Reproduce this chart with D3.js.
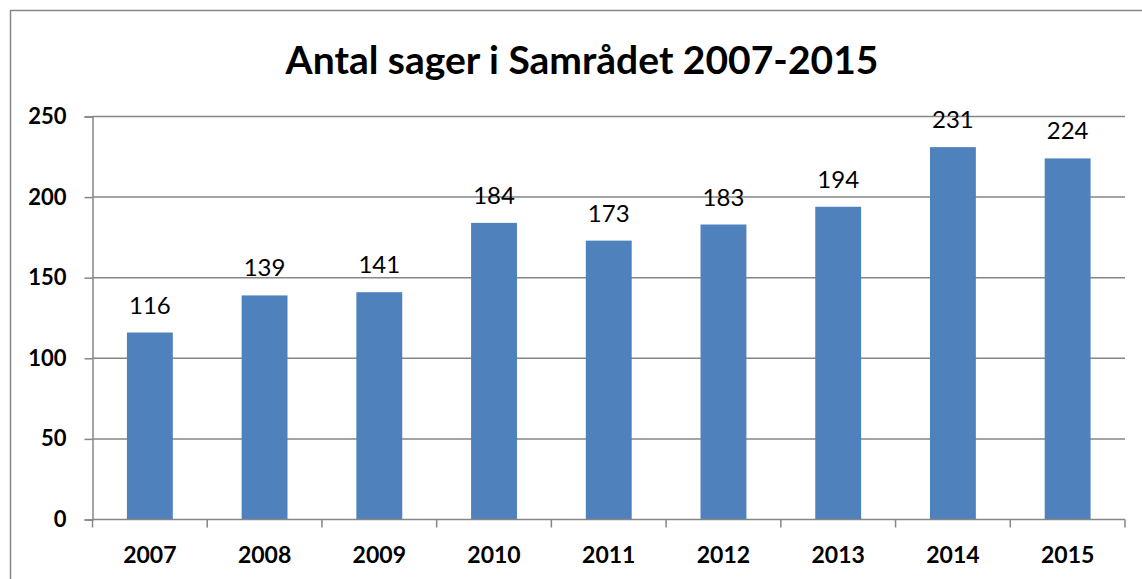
<!DOCTYPE html>
<html>
<head>
<meta charset="utf-8">
<script src="https://cdn.jsdelivr.net/npm/d3@7"></script>
<style>
  body { margin: 0; background: white; }
  svg { display: block; }
</style>
</head>
<body>
<svg></svg>
<script>
const years = ["2007", "2008", "2009", "2010", "2011", "2012", "2013", "2014", "2015"]
const cases = [116, 139, 141, 184, 173, 183, 194, 231, 224]
const yTicks = [0, 50, 100, 150, 200, 250]
const title = "Antal sager i Samrådet 2007-2015"

const w = 1142
const h = 579
const plotLeft = 92.5
const plotRight = 1125
const plotTop = 116.5
const plotBottom = 519.5
const font = "Lato, 'Open Sans', sans-serif"
const gray = "#868686"

const svg = d3.select("svg").attr("width", w).attr("height", h)

// outer frame (only left and top visible in the crop)
svg.append("path")
  .attr("d", `M10.5,${h} V10.5 H${w}`)
  .attr("fill", "none")
  .attr("stroke", gray)
  .attr("stroke-width", 1.5)

svg.append("text")
  .attr("x", 582)
  .attr("y", 74)
  .attr("text-anchor", "middle")
  .style("font-family", font)
  .style("font-weight", "bold")
  .style("font-size", "39px")
  .text(title)

const xScale = d3.scaleBand().domain(years).range([plotLeft, plotRight]).paddingInner(0.6).paddingOuter(0.3)
const yScale = d3.scaleLinear().domain([0, 250]).range([plotBottom, plotTop])

// gridlines
svg.append("g")
  .selectAll("line")
  .data(yTicks.filter((d) => d > 0))
  .enter()
  .append("line")
  .attr("x1", plotLeft)
  .attr("x2", plotRight)
  .attr("y1", (d) => yScale(d))
  .attr("y2", (d) => yScale(d))
  .attr("stroke", gray)
  .attr("stroke-width", 1.5)

// bars
svg.append("g")
  .selectAll("rect")
  .data(cases)
  .enter()
  .append("rect")
  .attr("x", (d, i) => xScale(years[i]))
  .attr("y", (d) => yScale(d))
  .attr("width", xScale.bandwidth())
  .attr("height", (d) => plotBottom - yScale(d))
  .attr("fill", "#4F81BD")

// value labels
svg.append("g")
  .selectAll("text")
  .data(cases)
  .enter()
  .append("text")
  .attr("x", (d, i) => xScale(years[i]) + xScale.bandwidth() / 2)
  .attr("y", (d) => yScale(d) - 19)
  .attr("text-anchor", "middle")
  .style("font-family", font)
  .style("font-size", "24px")
  .text((d) => d)

// y axis
const yAxis = d3.axisLeft(yScale).tickValues(yTicks).tickSize(8).tickPadding(18)
const gy = svg.append("g").attr("transform", `translate(${plotLeft},0)`).call(yAxis)
gy.select(".domain").attr("stroke", gray).attr("stroke-width", 1.5)
gy.selectAll(".tick line").attr("stroke", gray).attr("stroke-width", 1.5)
gy.selectAll("text")
  .attr("fill", "black")
  .style("font-family", font)
  .style("font-weight", "bold")
  .style("font-size", "22px")

// x axis with category boundary ticks
const xAxis = d3.axisBottom(xScale).tickSize(0).tickPadding(27)
const gx = svg.append("g").attr("transform", `translate(0,${plotBottom})`).call(xAxis)
gx.select(".domain").attr("d", `M${plotLeft},0H${plotRight}`).attr("stroke", gray).attr("stroke-width", 1.5)
gx.selectAll("text")
  .attr("fill", "black")
  .style("font-family", font)
  .style("font-weight", "bold")
  .style("font-size", "23px")

const step = xScale.step()
gx.append("g")
  .selectAll("line")
  .data(d3.range(years.length + 1))
  .enter()
  .append("line")
  .attr("x1", (i) => plotLeft + i * step)
  .attr("x2", (i) => plotLeft + i * step)
  .attr("y1", 0)
  .attr("y2", 8)
  .attr("stroke", gray)
  .attr("stroke-width", 1.5)
</script>
</body>
</html>
